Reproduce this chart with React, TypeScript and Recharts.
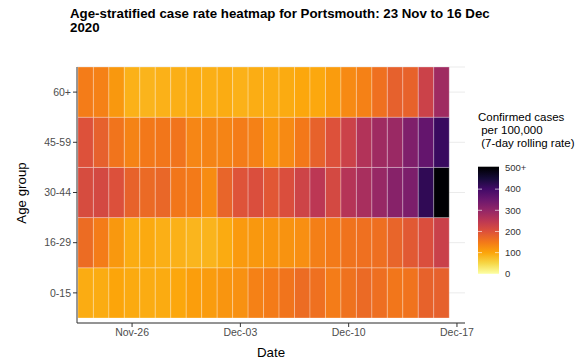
import React from "react";
import {
  ScatterChart,
  Scatter,
  XAxis,
  YAxis,
  CartesianGrid,
  ReferenceArea,
  Label,
} from "recharts";

// age groups, bottom row first
const ageGroups = ["0-15", "16-29", "30-44", "45-59", "60+"];

// 7-day rolling case rate per 100,000, one value per day 23 Nov .. 16 Dec
const rate0to15 = [93, 93, 100, 95, 93, 94, 98, 108, 110, 118, 122, 140, 147, 155, 165, 160, 145, 158, 168, 162, 153, 156, 178, 180];
const rate16to29 = [165, 145, 115, 93, 95, 90, 88, 84, 85, 94, 112, 115, 118, 120, 125, 142, 148, 156, 160, 162, 175, 190, 205, 230];
const rate30to44 = [210, 215, 202, 178, 168, 172, 152, 148, 128, 175, 198, 205, 192, 205, 225, 250, 215, 258, 275, 295, 315, 328, 420, 520];
const rate45to59 = [200, 180, 155, 138, 150, 152, 155, 135, 137, 137, 145, 140, 118, 130, 150, 178, 200, 228, 262, 285, 292, 325, 357, 410];
const rate60plus = [145, 140, 115, 88, 85, 88, 90, 93, 90, 93, 88, 92, 92, 94, 98, 97, 110, 130, 140, 160, 180, 178, 228, 285];

const rateByAge = [rate0to15, rate16to29, rate30to44, rate45to59, rate60plus];

// day index from 23 Nov
const dateTicks = [3, 10, 17, 24];
const dateTickLabels = ["Nov-26", "Dec-03", "Dec-10", "Dec-17"];

const legendTicks = [0, 100, 200, 300, 400, 500];
const legendLabels = ["0", "100", "200", "300", "400", "500+"];
const rateCap = 500;

// inferno, dark -> light
const inferno = [
  "#000004", "#160b39", "#420a68", "#6a176e", "#932667", "#bc3754",
  "#dd513a", "#f37819", "#fca50a", "#f6d746", "#fcffa4",
];

function hexToRgb(h: string) {
  return [1, 3, 5].map((i) => parseInt(h.slice(i, i + 2), 16));
}

function rateColor(v: number) {
  const t = 1 - Math.min(v, rateCap) / rateCap;
  const pos = t * (inferno.length - 1);
  const i = Math.min(Math.floor(pos), inferno.length - 2);
  const f = pos - i;
  const a = hexToRgb(inferno[i]);
  const b = hexToRgb(inferno[i + 1]);
  const c = a.map((x, k) => Math.round(x + (b[k] - x) * f));
  return `rgb(${c[0]},${c[1]},${c[2]})`;
}

const cells = rateByAge.flatMap((rates, row) =>
  rates.map((rate, day) => ({ day, row, rate }))
);

const FONT = "'Liberation Sans', Arial, sans-serif";

// colourbar geometry
const barTop = 166.7;
const barBottom = 273.8;
const barMax = 506;
const legendY = (v: number) => barBottom - (v / barMax) * (barBottom - barTop);

function ColourLegend() {
  const lightToDark = inferno.slice().reverse();
  return (
    <>
      <div
        style={{
          position: "absolute",
          left: 478,
          top: 111,
          fontSize: 11.5,
          lineHeight: "13.2px",
          color: "#000",
          whiteSpace: "pre",
        }}
      >
        {"Confirmed cases\n per 100,000\n (7-day rolling rate)"}
      </div>
      <svg
        width={582}
        height={362}
        style={{ position: "absolute", left: 0, top: 0, pointerEvents: "none" }}
      >
        <defs>
          <linearGradient id="infernoBar" x1="0" y1="1" x2="0" y2="0">
            {lightToDark.map((c, i) => {
              const v = (i / (lightToDark.length - 1)) * rateCap;
              return (
                <stop key={i} offset={`${(v / barMax) * 100}%`} stopColor={c} />
              );
            })}
            <stop offset="100%" stopColor="#000004" />
          </linearGradient>
        </defs>
        <rect
          x={478}
          y={barTop}
          width={21}
          height={barBottom - barTop}
          fill="url(#infernoBar)"
        />
        {legendTicks.slice(1, 5).map((v) => (
          <g key={v} stroke="#fff" strokeOpacity={0.8} strokeWidth={0.8}>
            <line x1={478} x2={482} y1={legendY(v)} y2={legendY(v)} />
            <line x1={495} x2={499} y1={legendY(v)} y2={legendY(v)} />
          </g>
        ))}
        {legendTicks.map((v, i) => (
          <text
            key={v}
            x={505}
            y={legendY(v)}
            dy="0.35em"
            fontSize={9.5}
            fill="#333"
            fontFamily={FONT}
          >
            {legendLabels[i]}
          </text>
        ))}
      </svg>
    </>
  );
}

export default function App() {
  return (
    <div
      style={{
        position: "absolute",
        left: 0,
        top: 0,
        width: 582,
        height: 362,
        background: "#fff",
        fontFamily: FONT,
      }}
    >
      <div
        style={{
          position: "absolute",
          left: 70,
          top: 7,
          fontSize: 13.3,
          fontWeight: "bold",
          lineHeight: "13.5px",
          color: "#000",
          whiteSpace: "nowrap",
        }}
      >
        Age-stratified case rate heatmap for Portsmouth: 23 Nov to 16 Dec
        <br />
        2020
      </div>
      <ScatterChart
        width={582}
        height={362}
        margin={{ top: 67, right: 117, bottom: 0, left: 0 }}
        style={{ position: "absolute", left: 0, top: 0 }}
      >
        <CartesianGrid vertical={false} stroke="#ebebeb" />
        <XAxis
          type="number"
          dataKey="day"
          domain={[-0.56, 24.52]}
          allowDataOverflow
          ticks={dateTicks}
          tickFormatter={(v: number) => dateTickLabels[dateTicks.indexOf(v)] ?? ""}
          height={39}
          axisLine={{ stroke: "#333" }}
          tickLine={{ stroke: "#333" }}
          tickSize={4}
          tick={{ fill: "#4d4d4d", fontSize: 10.5, fontFamily: FONT }}
        >
          <Label
            content={({ viewBox }: any) => (
              <text
                x={viewBox.x + viewBox.width / 2}
                y={viewBox.y + 33.5}
                textAnchor="middle"
                fontSize={13.3}
                fill="#000"
                fontFamily={FONT}
              >
                Date
              </text>
            )}
          />
        </XAxis>
        <YAxis
          type="number"
          dataKey="row"
          domain={[-0.6, 4.5]}
          allowDataOverflow
          ticks={[0, 1, 2, 3, 4]}
          tickFormatter={(v: number) => ageGroups[v] ?? ""}
          width={77}
          axisLine={{ stroke: "#333" }}
          tickLine={{ stroke: "#333" }}
          tickSize={4}
          tick={{ fill: "#4d4d4d", fontSize: 10.5, fontFamily: FONT }}
        >
          <Label
            content={({ viewBox }: any) => (
              <text
                x={25.5}
                y={viewBox.y + viewBox.height / 2 - 2}
                textAnchor="middle"
                transform={`rotate(-90, 25.5, ${viewBox.y + viewBox.height / 2 - 2})`}
                fontSize={13.3}
                fill="#000"
                fontFamily={FONT}
              >
                Age group
              </text>
            )}
          />
        </YAxis>
        {cells.map((c) => (
          <ReferenceArea
            key={`${c.row}-${c.day}`}
            x1={c.day - 0.5}
            x2={c.day + 0.5}
            y1={c.row - 0.5}
            y2={c.row + 0.5}
            fill={rateColor(c.rate)}
            fillOpacity={1}
            stroke="rgba(255,255,255,0.35)"
            strokeWidth={0.8}
            ifOverflow="hidden"
          />
        ))}
        <Scatter data={cells} isAnimationActive={false} shape={() => <g />} />
      </ScatterChart>
      <ColourLegend />
    </div>
  );
}
